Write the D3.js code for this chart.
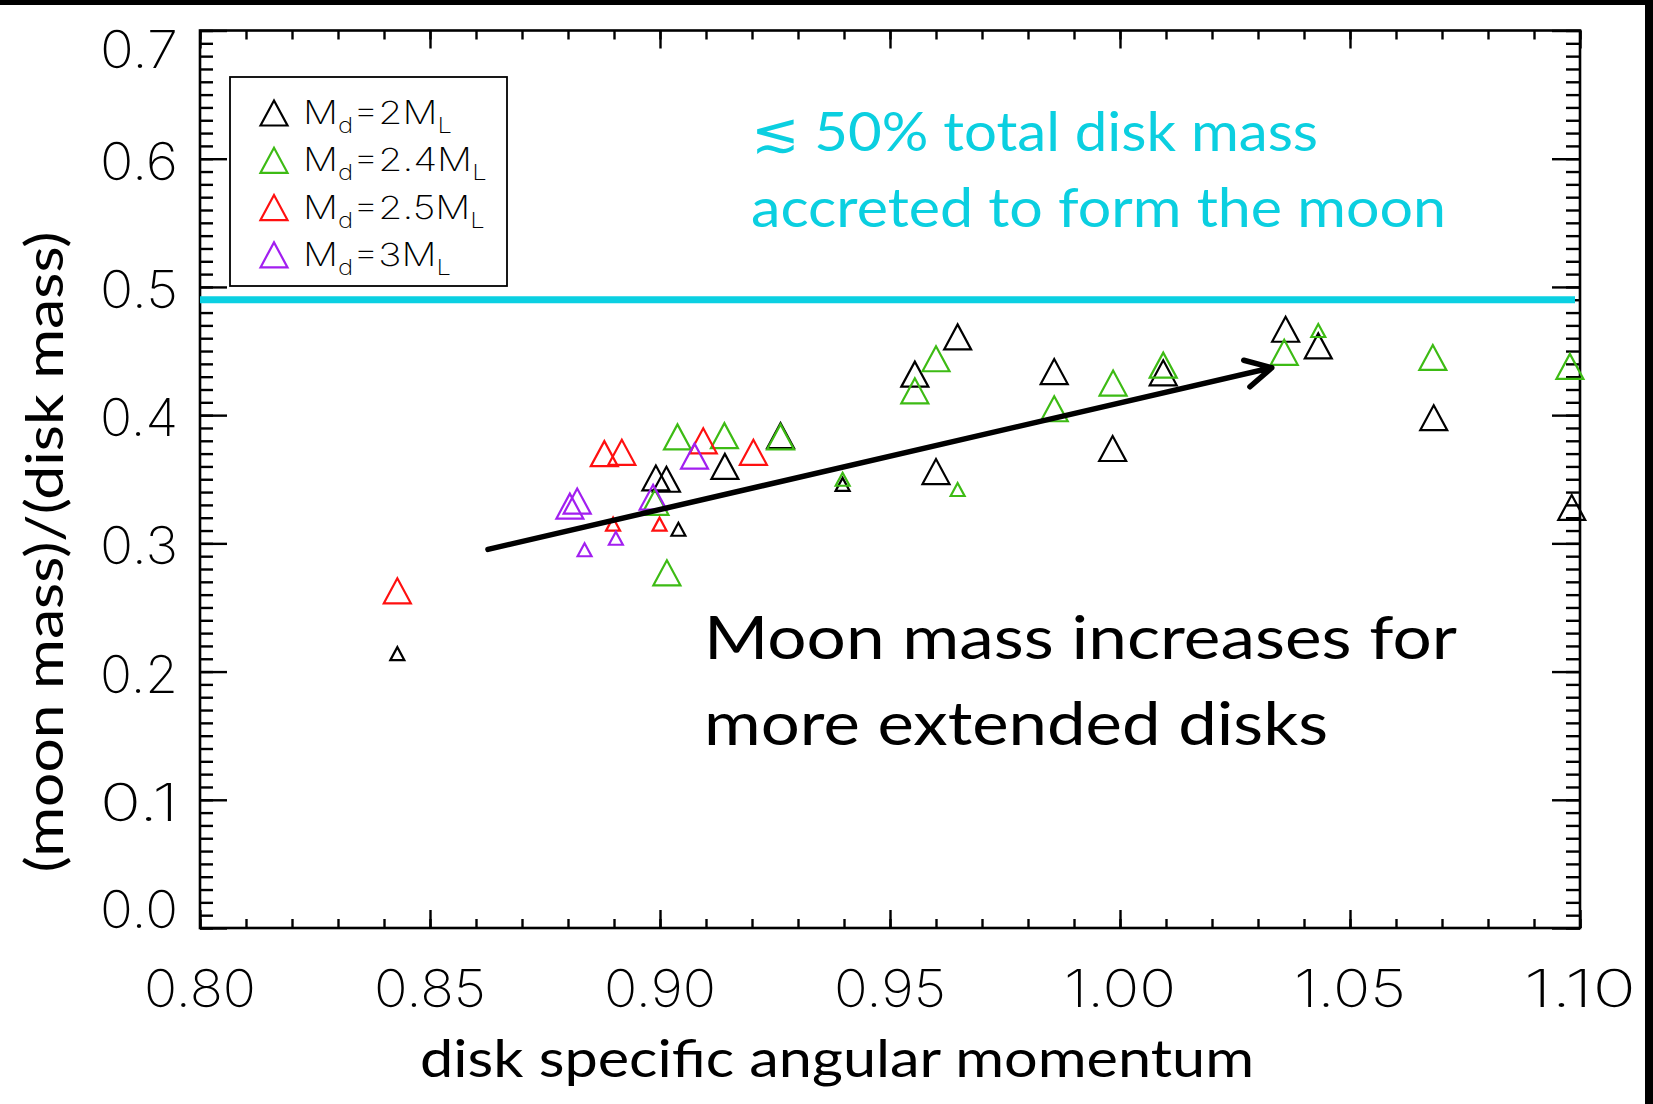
<!DOCTYPE html>
<html>
<head>
<meta charset="utf-8">
<script src="https://cdn.jsdelivr.net/npm/d3@7"></script>
<style>
  html, body { margin: 0; padding: 0; background: #fff; }
  svg { display: block; }
</style>
</head>
<body>
<div id="chart"></div>
<script>
// values
const blackX = [0.8429, 0.8991, 0.9014, 0.9040, 0.9141, 0.9262, 0.9397, 0.9554, 0.9600, 0.9647, 0.9857, 0.9984, 1.0094, 1.0360, 1.0431, 1.0682, 1.0982];
const blackY = [0.214, 0.351, 0.350, 0.311, 0.360, 0.384, 0.346, 0.432, 0.356, 0.461, 0.434, 0.374, 0.433, 0.467, 0.454, 0.398, 0.328];
const blackBig = [0, 1, 1, 0, 1, 1, 0, 1, 1, 1, 1, 1, 1, 1, 1, 1, 1];

const greenX = [0.8989, 0.9015, 0.9038, 0.9140, 0.9262, 0.9397, 0.9554, 0.9600, 0.9647, 0.9857, 0.9985, 1.0094, 1.0357, 1.0431, 1.0680, 1.0978];
const greenY = [0.332, 0.277, 0.383, 0.384, 0.383, 0.350, 0.419, 0.444, 0.342, 0.405, 0.425, 0.439, 0.449, 0.466, 0.445, 0.438];
const greenBig = [1, 1, 1, 1, 1, 0, 1, 1, 0, 1, 1, 1, 1, 0, 1, 1];

const redX = [0.8429, 0.8879, 0.8917, 0.8898, 0.8999, 0.9094, 0.9203];
const redY = [0.263, 0.370, 0.371, 0.315, 0.315, 0.380, 0.371];
const redBig = [1, 1, 1, 0, 0, 1, 1];

const purpleX = [0.8804, 0.8820, 0.8836, 0.8904, 0.8985, 0.9075];
const purpleY = [0.329, 0.333, 0.295, 0.304, 0.336, 0.368];
const purpleBig = [1, 1, 0, 0, 1, 1];

const diskMasses = ["2", "2.4", "2.5", "3"];   // M_d in lunar masses
const seriesColors = ["#000000", "#3dbb14", "#ff1010", "#a21ff0"];

const xTicks = [0.80, 0.85, 0.90, 0.95, 1.00, 1.05, 1.10];
const yTicks = [0.0, 0.1, 0.2, 0.3, 0.4, 0.5, 0.6, 0.7];
const xMinor = d3.range(80, 111).map(d => d / 100);
const yMinor = d3.range(0, 71).map(d => d / 100);

const limitLine = 0.49;
const arrowFrom = [0.8626, 0.2953];
const arrowTo = [1.033, 0.437];

const W = 1653, H = 1104;
const x = d3.scaleLinear().domain([0.80, 1.10]).range([200, 1580]);
const y = d3.scaleLinear().domain([0, 0.7]).range([928, 30.5]);

const svg = d3.select("#chart").append("svg")
  .attr("width", W).attr("height", H);

svg.append("rect").attr("width", W).attr("height", H).attr("fill", "#fff");

// black border strips of the slide
svg.append("rect").attr("x", 0).attr("y", 0).attr("width", W).attr("height", 5).attr("fill", "#000");
svg.append("rect").attr("x", 1645).attr("y", 0).attr("width", 8).attr("height", H).attr("fill", "#000");

// ticks on all four sides, pointing inward
function ticks(axisFn, values, size, transform) {
  const g = svg.append("g").attr("transform", transform)
    .call(axisFn.tickValues(values).tickSizeInner(size).tickSizeOuter(0).tickFormat(""));
  g.select(".domain").remove();
  g.selectAll("line").attr("stroke", "#000").attr("stroke-width", 2.4);
}
ticks(d3.axisBottom(x), xMinor, -9, "translate(0,928)");
ticks(d3.axisBottom(x), xTicks, -18, "translate(0,928)");
ticks(d3.axisTop(x), xMinor, -9, "translate(0,30.5)");
ticks(d3.axisTop(x), xTicks, -18, "translate(0,30.5)");
ticks(d3.axisLeft(y), yMinor, -13, "translate(200,0)");
ticks(d3.axisLeft(y), yTicks, -27, "translate(200,0)");
ticks(d3.axisRight(y), yMinor, -14, "translate(1580,0)");
ticks(d3.axisRight(y), yTicks, -28, "translate(1580,0)");

svg.append("rect")
  .attr("x", x(0.80)).attr("y", y(0.7))
  .attr("width", x(1.10) - x(0.80)).attr("height", y(0) - y(0.7))
  .attr("fill", "none").attr("stroke", "#000").attr("stroke-width", 2.6);

// tick labels
const tickFont = "Inter, 'DejaVu Sans', sans-serif";
svg.append("g").selectAll("text").data(xTicks).join("text")
  .attr("x", d => x(d) - 56).attr("y", 1007)
  .attr("textLength", 112).attr("lengthAdjust", "spacingAndGlyphs")
  .style("font-family", tickFont).style("font-weight", 200).style("font-size", "52px")
  .text(d => d.toFixed(2));

svg.append("g").selectAll("text").data(yTicks).join("text")
  .attr("x", 100)
  .attr("y", d => Math.max(68, Math.min(928, y(d) + 21)))
  .attr("textLength", 78).attr("lengthAdjust", "spacingAndGlyphs")
  .style("font-family", tickFont).style("font-weight", 200).style("font-size", "52px")
  .text(d => d.toFixed(1));

// 50% line
svg.append("line")
  .attr("x1", x(0.80)).attr("x2", x(1.10) - 5)
  .attr("y1", y(limitLine)).attr("y2", y(limitLine))
  .attr("stroke", "#0bd0e2").attr("stroke-width", 7);

// triangles
const tri = big => {
  const s = big ? 13.5 : 7, h = big ? 12.5 : 6.5;
  return `M${-s},${h}L0,${-h}L${s},${h}Z`;
};
const series = [
  { xs: blackX, ys: blackY, big: blackBig },
  { xs: greenX, ys: greenY, big: greenBig },
  { xs: redX, ys: redY, big: redBig },
  { xs: purpleX, ys: purpleY, big: purpleBig }
];
series.forEach((s, i) => {
  svg.append("g").selectAll("path").data(d3.range(s.xs.length)).join("path")
    .attr("transform", j => `translate(${x(s.xs[j])},${y(s.ys[j])})`)
    .attr("d", j => tri(s.big[j]))
    .attr("fill", "none").attr("stroke", seriesColors[i]).attr("stroke-width", 2.2)
    .attr("stroke-linejoin", "miter");
});

// legend
const lg = svg.append("g");
lg.append("rect").attr("x", 230).attr("y", 77).attr("width", 277).attr("height", 209)
  .attr("fill", "#fff").attr("stroke", "#000").attr("stroke-width", 1.8);
diskMasses.forEach((m, i) => {
  const cy = 113 + i * 47.3;
  lg.append("path").attr("transform", `translate(274,${cy})`).attr("d", tri(1))
    .attr("fill", "none").attr("stroke", seriesColors[i]).attr("stroke-width", 2.2);
  const t = lg.append("text")
    .attr("transform", `translate(303,${cy + 11}) scale(1.22,1)`)
    .style("font-family", tickFont).style("font-weight", 200).style("font-size", "32px")
    .attr("fill", "#000");
  t.append("tspan").text("M");
  t.append("tspan").attr("dy", 9).style("font-size", "21px").text("d");
  t.append("tspan").attr("dy", -9).text("=" + m + "M");
  t.append("tspan").attr("dy", 9).style("font-size", "21px").text("L");
});

// arrow
const ax0 = x(arrowFrom[0]), ay0 = y(arrowFrom[1]);
const ax1 = x(arrowTo[0]), ay1 = y(arrowTo[1]);
const ang = Math.atan2(ay1 - ay0, ax1 - ax0);
const armLen = 29, armAng = 28 * Math.PI / 180;
const arm = sgn => [ax1 - armLen * Math.cos(ang + sgn * armAng), ay1 - armLen * Math.sin(ang + sgn * armAng)];
const a1 = arm(1), a2 = arm(-1);
svg.append("path")
  .attr("d", `M${ax0},${ay0}L${ax1},${ay1}M${a1[0]},${a1[1]}L${ax1},${ay1}L${a2[0]},${a2[1]}`)
  .attr("fill", "none").attr("stroke", "#000").attr("stroke-width", 5.5)
  .attr("stroke-linecap", "round").attr("stroke-linejoin", "round");

// annotation text
const textFont = "Lato, 'Open Sans', sans-serif";
function label(str, px, py, size, len, color) {
  return svg.append("text").attr("x", px).attr("y", py)
    .attr("textLength", len).attr("lengthAdjust", "spacingAndGlyphs")
    .style("font-family", textFont).style("font-size", size + "px")
    .attr("fill", color).text(str);
}
label("\u2272 50% total disk mass", 751, 151, 54, 567, "#0bcfe0");
label("accreted to form the moon", 751, 227, 54, 695, "#0bcfe0");
label("Moon mass increases for", 704, 659, 60, 753, "#000");
label("more extended disks", 704, 745, 60, 624, "#000");
label("disk specific angular momentum", 420, 1077, 52, 834, "#000");

svg.append("text")
  .attr("transform", "translate(63,552) rotate(-90)")
  .attr("text-anchor", "middle")
  .attr("textLength", 641).attr("lengthAdjust", "spacingAndGlyphs")
  .style("font-family", textFont).style("font-size", "53px")
  .text("(moon mass)/(disk mass)");
</script>
</body>
</html>
